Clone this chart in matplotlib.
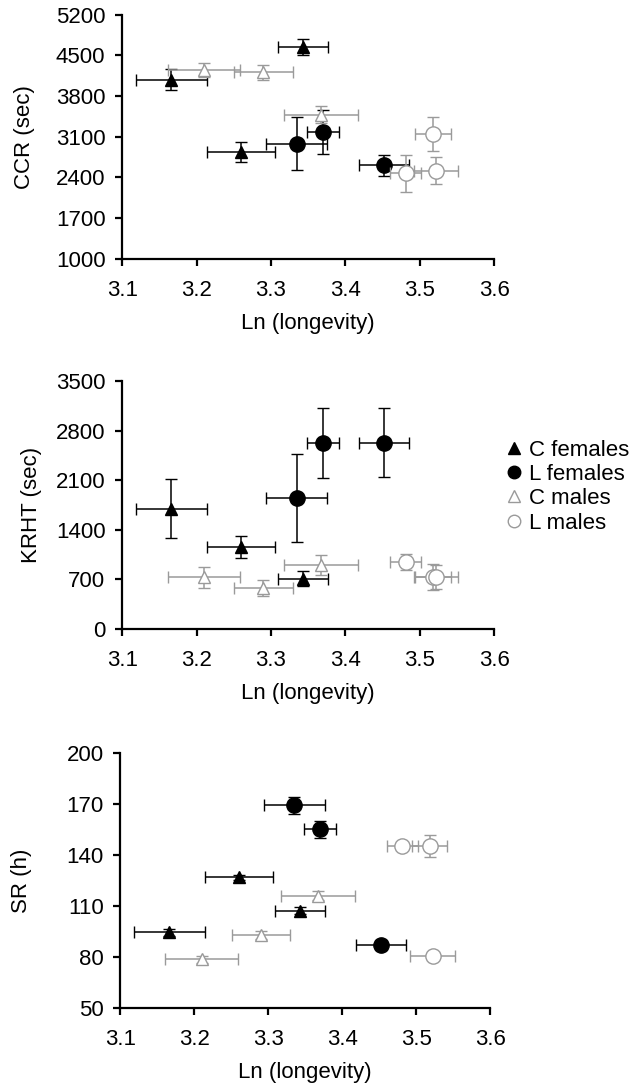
import matplotlib.pyplot as plt
import numpy as np

plt.rcParams['font.family'] = ['Liberation Sans', 'DejaVu Sans']
plt.rcParams['font.size'] = 16

# Ln(longevity) per group (same in all panels) and its error
x_cf = [3.166, 3.260, 3.343]
x_lf = [3.335, 3.370, 3.452]
x_cm = [3.210, 3.290, 3.367]
x_lm = [3.481, 3.518, 3.522]
xe_cf = [0.048, 0.046, 0.034]
xe_lf = [0.041, 0.022, 0.034]
xe_cm = [0.049, 0.039, 0.050]
xe_lm = [0.021, 0.024, 0.030]

# CCR (sec)
ccr_cf = [4083, 2834, 4647]
ccr_lf = [2977, 3177, 2610]
ccr_cm = [4255, 4209, 3481]
ccr_lm = [2467, 3149, 2518]
ccre_cf = [180, 172, 140]
ccre_lf = [458, 383, 183]
ccre_cm = [120, 130, 143]
ccre_lm = [320, 287, 229]

# KRHT (sec)
krht_cf = [1698, 1157, 710]
krht_lf = [1849, 2630, 2630]
krht_cm = [734, 579, 899]
krht_lm = [946, 734, 734]
krhte_cf = [416, 158, 104]
krhte_lf = [614, 494, 487]
krhte_cm = [148, 106, 141]
krhte_lm = [106, 183, 170]

# SR (h)
sr_cf = [94.4, 126.9, 107.3]
sr_lf = [169.3, 155.0, 87.2]
sr_cm = [78.7, 93.0, 116.1]
sr_lm = [145.2, 145.2, 80.3]
sre_cf = [2.0, 1.5, 2.0]
sre_lf = [5.0, 5.0, 3.0]
sre_cm = [2.0, 2.5, 2.5]
sre_lm = [2.5, 6.5, 1.5]

grey = '#9a9a9a'

panels = [
    dict(pos=[0.192, 0.762, 0.585, 0.2245], ylabel='CCR (sec)', lx=-0.234,
         ylim=(1000, 5200), yticks=np.arange(1000, 5201, 700),
         y=[ccr_cf, ccr_lf, ccr_cm, ccr_lm], e=[ccre_cf, ccre_lf, ccre_cm, ccre_lm]),
    dict(pos=[0.192, 0.4213, 0.585, 0.2282], ylabel='KRHT (sec)', lx=-0.215,
         ylim=(0, 3500), yticks=np.arange(0, 3501, 700),
         y=[krht_cf, krht_lf, krht_cm, krht_lm], e=[krhte_cf, krhte_lf, krhte_cm, krhte_lm]),
    dict(pos=[0.189, 0.0727, 0.582, 0.2346], ylabel='SR (h)', lx=-0.237,
         ylim=(50, 200), yticks=np.arange(50, 201, 30),
         y=[sr_cf, sr_lf, sr_cm, sr_lm], e=[sre_cf, sre_lf, sre_cm, sre_lm]),
]

xs = [x_cf, x_lf, x_cm, x_lm]
xes = [xe_cf, xe_lf, xe_cm, xe_lm]
labels = ['C females', 'L females', 'C males', 'L males']
styles = [
    dict(marker='^', ms=9, mfc='black', mec='black', ecolor='black'),
    dict(marker='o', ms=11, mfc='black', mec='black', ecolor='black'),
    dict(marker='^', ms=9, mfc='white', mec=grey, ecolor=grey),
    dict(marker='o', ms=11, mfc='white', mec=grey, ecolor=grey),
]
order = [2, 3, 0, 1]  # males behind females

fig = plt.figure(figsize=(6.36, 10.87), dpi=100)
handles = {}
for p in panels:
    ax = fig.add_axes(p['pos'])
    for i in order:
        s = styles[i]
        h = ax.errorbar(xs[i], p['y'][i], xerr=xes[i], yerr=p['e'][i],
                        fmt=s['marker'], ms=s['ms'], mfc=s['mfc'], mec=s['mec'],
                        mew=1, ecolor=s['ecolor'], elinewidth=1.1, capsize=4,
                        capthick=1.1, label=labels[i], zorder=3 + i)
        handles[i] = h
    ax.set_xlim(3.1, 3.6)
    ax.set_ylim(*p['ylim'])
    ax.set_xticks(np.arange(3.1, 3.61, 0.1))
    ax.set_xticklabels(['3.1', '3.2', '3.3', '3.4', '3.5', '3.6'])
    ax.set_yticks(p['yticks'])
    ax.set_xlabel('Ln (longevity)', labelpad=9)
    ax.set_ylabel(p['ylabel'])
    ax.yaxis.set_label_coords(p['lx'], 0.5)
    for side in ['top', 'right']:
        ax.spines[side].set_visible(False)
    for side in ['left', 'bottom']:
        ax.spines[side].set_linewidth(1.6)
    ax.tick_params(direction='out', length=5, width=1.6, pad=7)
    ax.tick_params(axis='x', pad=10)
    ax.patch.set_visible(False)

leg_h = [handles[i][0] for i in range(4)]
leg = fig.legend(leg_h, labels, loc='center left', bbox_to_anchor=(0.78, 0.5524),
                 frameon=False, handlelength=0.8, handletextpad=0.3,
                 labelspacing=0.15, fontsize=16, borderaxespad=0)
for lh in leg.legend_handles:
    lh.set_markersize(9)

fig.savefig('out.png', dpi=100)
